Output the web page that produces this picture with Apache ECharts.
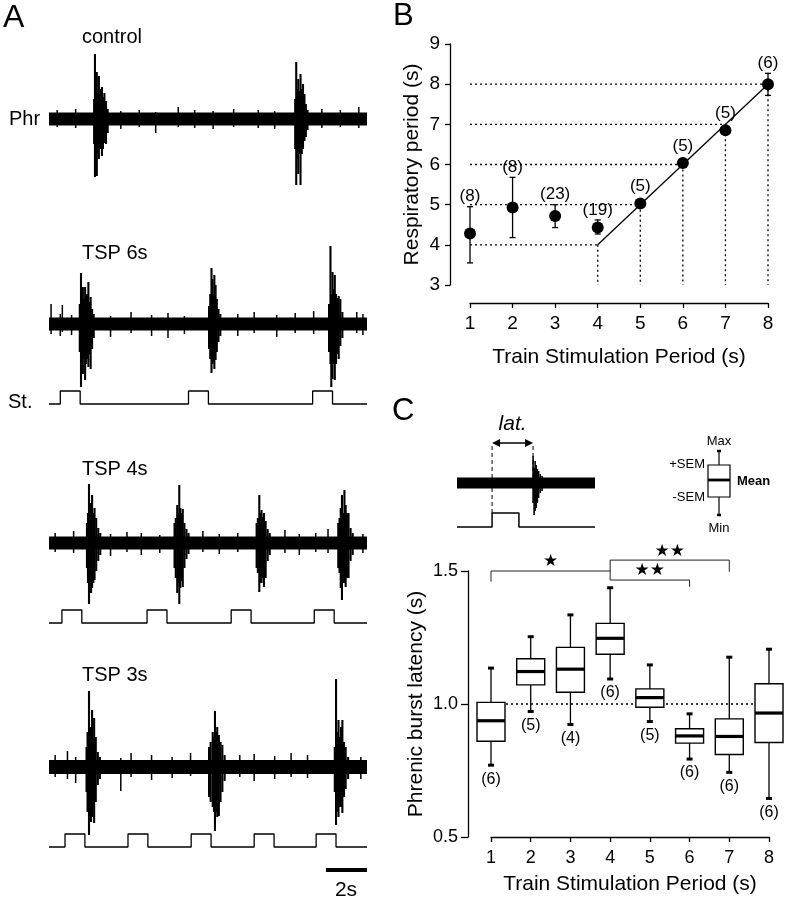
<!DOCTYPE html>
<html><head><meta charset="utf-8">
<script src="https://cdn.jsdelivr.net/npm/echarts@6/dist/echarts.min.js"></script>
<style>html,body{margin:0;padding:0;background:#fff}#c{width:788px;height:899px}</style>
</head><body><div id="c"></div>
<script>
const FONT = '"Liberation Sans", Arial, Helvetica, sans-serif';

// ---------- Panel A : traces (time in s, amplitudes as [t, up, down]) ----------
const traceNames = ['control', 'TSP 6s', 'TSP 4s', 'TSP 3s'];
const traceSpan = [0, 15.5];
const noiseHalf = [6.5, 6.5, 6.5, 7];

const controlBursts = [
  [2.20,20,25],[2.24,65,58],[2.28,30,48],[2.33,47,57],[2.38,28,35],[2.43,43,40],[2.48,25,30],[2.53,30,28],[2.58,32,37],[2.63,22,30],[2.70,26,24],[2.78,18,25],[2.86,10,14],
  [12.00,20,30],[12.05,57,66],[12.10,30,40],[12.15,40,55],[12.20,28,35],[12.26,45,66],[12.32,30,35],[12.38,35,30],[12.45,25,22],[12.52,15,18],[12.60,9,11]
];
const controlNoise = [[0.4,9,8],[1.3,10,9],[3.5,8,10],[4.4,9,8],[5.2,7,14],[6.3,12,8],[7.1,9,9],[8.0,8,10],[9.0,10,8],[10.2,9,9],[11.0,8,10],[13.3,10,9],[14.2,9,8],[15.1,12,9]];

const tsp6Bursts = [
  [1.50,20,28],[1.56,51,63],[1.60,30,45],[1.65,37,50],[1.70,25,35],[1.76,37,56],[1.81,28,40],[1.86,30,35],[1.92,42,43],[1.97,22,30],[2.03,27,45],[2.10,15,25],[2.18,10,14],
  [7.80,18,25],[7.86,30,35],[7.92,56,49],[7.97,45,40],[8.02,30,38],[8.06,49,45],[8.12,39,36],[8.18,25,28],[8.26,15,18],[8.35,10,12],
  [13.65,20,28],[13.72,78,40],[13.76,30,63],[13.82,52,55],[13.88,35,40],[13.93,49,56],[13.99,30,40],[14.05,26,30],[14.12,28,35],[14.20,25,22],[14.30,12,14]
];
const tsp6Noise = [[0.1,20,10],[0.55,10,12],[0.65,19,8],[1.1,9,11],[3.0,8,13],[4.0,12,9],[5.0,9,12],[5.8,11,14],[6.6,8,10],[9.2,10,12],[10.0,12,9],[11.1,9,13],[12.0,11,9],[12.9,13,10],[15.0,12,9],[15.3,10,11]];

const tsp4Bursts = [
  [1.85,20,25],[1.90,30,40],[1.95,59,61],[2.00,35,45],[2.05,40,50],[2.10,48,45],[2.16,30,40],[2.22,35,37],[2.30,25,28],[2.40,15,18],[2.50,10,12],
  [6.12,20,25],[6.18,25,35],[6.25,38,50],[6.30,30,40],[6.35,58,61],[6.40,35,45],[6.46,30,38],[6.52,34,44],[6.60,20,25],[6.70,14,16],[6.80,10,11],
  [10.12,20,25],[10.18,25,30],[10.25,48,49],[10.30,30,40],[10.36,33,40],[10.42,26,35],[10.48,30,44],[10.56,22,35],[10.66,14,18],[10.76,10,12],
  [14.10,20,25],[14.16,25,30],[14.22,35,45],[14.28,48,57],[14.34,30,40],[14.40,53,40],[14.46,38,44],[14.52,30,35],[14.60,30,35],[14.70,15,18],[14.80,10,12]
];
const tsp4Noise = [[0.3,10,9],[1.2,12,10],[3.0,9,13],[3.8,11,9],[4.5,10,12],[5.4,8,10],[7.5,12,9],[8.3,9,11],[9.2,10,9],[11.5,13,10],[12.2,9,12],[13.0,10,9],[13.6,14,10],[15.3,9,10]];

const tsp3Bursts = [
  [1.83,20,25],[1.88,35,45],[1.95,76,68],[2.00,30,40],[2.05,40,55],[2.10,57,50],[2.15,30,40],[2.20,49,56],[2.28,30,35],[2.38,15,18],[2.48,10,12],
  [7.80,20,30],[7.88,25,35],[7.98,35,40],[8.04,30,45],[8.09,56,64],[8.15,35,45],[8.20,40,50],[8.28,32,49],[8.36,25,35],[8.45,22,25],[8.56,12,14],
  [13.93,20,25],[13.99,88,58],[14.05,35,45],[14.11,47,50],[14.17,30,40],[14.23,40,40],[14.30,47,46],[14.38,25,30],[14.46,20,22],[14.58,10,12]
];
const tsp3Noise = [[0.3,12,10],[0.9,16,12],[1.3,10,16],[3.5,9,24],[4.0,14,10],[5.0,12,13],[6.0,10,11],[6.9,14,9],[9.3,12,10],[10.0,13,14],[11.0,11,12],[11.8,14,10],[12.6,12,11],[15.2,10,12]];

// stimulus trains: onset times (s), pulse duration (s)
const stim6Onsets = [0.55, 6.80, 12.85];
const stim4Onsets = [0.63, 4.78, 8.88, 12.93];
const stim3Onsets = [0.78, 3.85, 6.93, 10.00, 13.02];
const stimDur = 0.97;
const scaleBarSec = [13.5, 15.5];

// ---------- Panel B ----------
const respX    = [1, 2, 3, 4, 5, 6, 7, 8];
const respMean = [4.28, 4.93, 4.72, 4.43, 5.03, 6.04, 6.85, 8.00];
const respLow  = [3.55, 4.18, 4.43, 4.27, null, null, null, 7.72];
const respHigh = [4.95, 5.68, 5.00, 4.62, null, null, null, 8.27];
const respN    = ['(8)', '(8)', '(23)', '(19)', '(5)', '(5)', '(5)', '(6)'];
const refLevels = [4, 5, 6, 7, 8];
const fitX = [4, 8], fitY = [4, 8];

// ---------- Panel C ----------
const latX    = [1, 2, 3, 4, 5, 6, 7, 8];
const latMin  = [0.770, 0.972, 0.923, 1.094, 0.934, 0.793, 0.743, 0.645];
const latLow  = [0.860, 1.072, 1.044, 1.187, 0.988, 0.853, 0.810, 0.855];
const latMean = [0.937, 1.122, 1.131, 1.247, 1.024, 0.880, 0.878, 0.966];
const latHigh = [1.006, 1.170, 1.213, 1.303, 1.057, 0.907, 0.944, 1.076];
const latMax  = [1.135, 1.253, 1.335, 1.437, 1.147, 0.963, 1.176, 1.206];
const latN    = ['(6)', '(5)', '(4)', '(6)', '(5)', '(6)', '(6)', '(6)'];
const latRef  = 1.0;
// significance brackets: [from, to, level, left leg, right leg]
const sigBrackets = [[1, 4, 1.500, 0.040, 0], [4, 7, 1.541, 0.075, 0.044], [4, 6, 1.466, 0, 0.025]];
const sigStars = ['\u2605', '\u2605\u2605', '\u2605\u2605'];
// inset trace
const insetSpikes = [[3.71,27,20],[3.76,15,32],[3.81,22,28],[3.86,18,25],[3.92,14,20],[3.98,12,15],[4.06,9,10],[4.15,7,8]];
const insetStimOnset = 1.71, insetStimDur = 1.31, insetSpan = [0, 6.73];

// ---------- helpers ----------
const BLACK = '#000';
function stepData(onsets, dur, span, low, high) {
  const d = [[span[0], low]];
  onsets.forEach(o => d.push([o, low], [o, high], [o + dur, high], [o + dur, low]));
  d.push([span[1], low]);
  return d;
}
function spikeSeries(gi, data, w) {
  return {
    type: 'custom', xAxisIndex: gi, yAxisIndex: gi, data: data, silent: true, z: 3,
    renderItem: (p, api) => {
      const a = api.coord([api.value(0), api.value(1)]);
      const b = api.coord([api.value(0), -api.value(2)]);
      return { type: 'line', shape: { x1: a[0], y1: a[1], x2: b[0], y2: b[1] }, style: { stroke: BLACK, lineWidth: w || 1.3 } };
    }
  };
}
function bandSeries(gi, span, half) {
  return {
    type: 'custom', xAxisIndex: gi, yAxisIndex: gi, data: [[span[0], span[1], half]], silent: true, z: 2,
    renderItem: (p, api) => {
      const a = api.coord([api.value(0), api.value(2)]);
      const b = api.coord([api.value(1), -api.value(2)]);
      return { type: 'rect', shape: { x: a[0], y: a[1], width: b[0] - a[0], height: b[1] - a[1] }, style: { fill: BLACK } };
    }
  };
}
function stimSeries(gi, onsets, dur, span) {
  return {
    type: 'line', xAxisIndex: gi, yAxisIndex: gi, data: stepData(onsets, dur, span, -80, -67),
    symbol: 'none', silent: true, lineStyle: { color: BLACK, width: 1.3 }, animation: false
  };
}

const hiddenX = (gi, min, max) => ({ gridIndex: gi, type: 'value', min, max, show: false });
const hiddenY = (gi, min, max) => ({ gridIndex: gi, type: 'value', min, max, show: false });

const option = {
  animation: false,
  backgroundColor: '#fff',
  textStyle: { fontFamily: FONT },
  grid: [
    { left: 49, width: 318, top: 34, height: 180 },
    { left: 49, width: 318, top: 239, height: 180 },
    { left: 49, width: 318, top: 458, height: 180 },
    { left: 49, width: 318, top: 682, height: 210 },
    { left: 450, right: 20, top: 44, height: 241 },
    { left: 470, right: 20, top: 302, height: 1 },
    { left: 457, width: 138, top: 438, height: 95 },
    { left: 468, right: 19, top: 571, height: 266 },
    { left: 491, right: 19, top: 836, height: 1 }
  ],
  xAxis: [
    hiddenX(0, traceSpan[0], traceSpan[1]),
    hiddenX(1, traceSpan[0], traceSpan[1]),
    hiddenX(2, traceSpan[0], traceSpan[1]),
    hiddenX(3, traceSpan[0], traceSpan[1]),
    hiddenX(4, 0.53, 8),
    {
      gridIndex: 5, type: 'value', min: 1, max: 8, interval: 1,
      axisLine: { show: true, lineStyle: { color: BLACK, width: 1.3 } },
      axisTick: { show: true, length: 5, lineStyle: { color: BLACK, width: 1.3 } },
      axisLabel: { fontSize: 19, color: BLACK, margin: 11, fontFamily: FONT },
      splitLine: { show: false },
      name: 'Train Stimulation Period (s)', nameLocation: 'middle', nameGap: 44,
      nameTextStyle: { fontSize: 21, color: BLACK, fontFamily: FONT }
    },
    hiddenX(6, insetSpan[0], insetSpan[1]),
    hiddenX(7, 0.4208, 8),
    {
      gridIndex: 8, type: 'value', min: 1, max: 8, interval: 1,
      axisLine: { show: true, lineStyle: { color: BLACK, width: 1.3 } },
      axisTick: { show: true, length: 5, lineStyle: { color: BLACK, width: 1.3 } },
      axisLabel: { fontSize: 18, color: BLACK, margin: 12, fontFamily: FONT },
      splitLine: { show: false },
      name: 'Train Stimulation Period (s)', nameLocation: 'middle', nameGap: 37,
      nameTextStyle: { fontSize: 21, color: BLACK, fontFamily: FONT }
    }
  ],
  yAxis: [
    hiddenY(0, -95, 85), hiddenY(1, -95, 85), hiddenY(2, -95, 85), hiddenY(3, -125, 85),
    {
      gridIndex: 4, type: 'value', min: 3, max: 9, interval: 1,
      axisLine: { show: true, lineStyle: { color: BLACK, width: 1.3 } },
      axisTick: { show: true, length: 5, lineStyle: { color: BLACK, width: 1.3 } },
      axisLabel: { fontSize: 19, color: BLACK, margin: 10, fontFamily: FONT },
      splitLine: { show: false },
      name: 'Respiratory period (s)', nameLocation: 'middle', nameRotate: 90, nameGap: 27,
      nameTextStyle: { fontSize: 21, color: BLACK, fontFamily: FONT }
    },
    hiddenY(5, 0, 1),
    hiddenY(6, -50, 45),
    {
      gridIndex: 7, type: 'value', min: 0.5, max: 1.5, interval: 0.5,
      axisLine: { show: true, lineStyle: { color: BLACK, width: 1.3 } },
      axisTick: { show: true, length: 7, lineStyle: { color: BLACK, width: 1.3 } },
      axisLabel: { fontSize: 18, color: BLACK, margin: 10, fontFamily: FONT, formatter: v => v.toFixed(1) },
      splitLine: { show: false },
      name: 'Phrenic burst latency (s)', nameLocation: 'middle', nameRotate: 90, nameGap: 41,
      nameTextStyle: { fontSize: 21, color: BLACK, fontFamily: FONT }
    },
    hiddenY(8, 0, 1)
  ],
  series: [],
  graphic: []
};

const S = option.series;
// Panel A
const traceBursts = [controlBursts, tsp6Bursts, tsp4Bursts, tsp3Bursts];
const traceNoise = [controlNoise, tsp6Noise, tsp4Noise, tsp3Noise];
for (let i = 0; i < 4; i++) {
  S.push(bandSeries(i, traceSpan, noiseHalf[i]));
  S.push(spikeSeries(i, traceNoise[i], 1.5));
  S.push(spikeSeries(i, traceBursts[i], 2.1));
}
S.push(stimSeries(1, stim6Onsets, stimDur, traceSpan));
S.push(stimSeries(2, stim4Onsets, stimDur, traceSpan));
S.push(stimSeries(3, stim3Onsets, stimDur, traceSpan));
S.push({ type: 'line', xAxisIndex: 3, yAxisIndex: 3, data: scaleBarSec.map(t => [t, -103]), symbol: 'none', silent: true, lineStyle: { color: BLACK, width: 4 } });

// Panel B
S.push({
  type: 'custom', xAxisIndex: 4, yAxisIndex: 4, data: refLevels.map(v => [v, v]), silent: true, z: 1,
  renderItem: (p, api) => {
    const v = api.value(0);
    const a = api.coord([1, v]), b = api.coord([v, v]), c = api.coord([v, 3]);
    const st = { stroke: BLACK, lineWidth: 1.3, lineDash: [2, 3] };
    return { type: 'group', children: [
      { type: 'line', shape: { x1: a[0], y1: a[1], x2: b[0], y2: b[1] }, style: st },
      { type: 'line', shape: { x1: b[0], y1: b[1], x2: c[0], y2: c[1] }, style: st }
    ] };
  }
});
S.push({ type: 'line', xAxisIndex: 4, yAxisIndex: 4, data: fitX.map((x, i) => [x, fitY[i]]), symbol: 'none', silent: true, z: 2, lineStyle: { color: BLACK, width: 1.3 } });
S.push({
  type: 'custom', xAxisIndex: 4, yAxisIndex: 4, silent: true, z: 3,
  data: respX.map((x, i) => [x, respLow[i], respHigh[i]]).filter(d => d[1] !== null),
  renderItem: (p, api) => {
    const x = api.value(0);
    const lo = api.coord([x, api.value(1)]), hi = api.coord([x, api.value(2)]);
    const st = { stroke: BLACK, lineWidth: 1.3 };
    return { type: 'group', children: [
      { type: 'line', shape: { x1: lo[0], y1: lo[1], x2: hi[0], y2: hi[1] }, style: st },
      { type: 'line', shape: { x1: lo[0] - 3, y1: lo[1], x2: lo[0] + 3, y2: lo[1] }, style: st },
      { type: 'line', shape: { x1: hi[0] - 3, y1: hi[1], x2: hi[0] + 3, y2: hi[1] }, style: st }
    ] };
  }
});
S.push({ type: 'scatter', xAxisIndex: 4, yAxisIndex: 4, data: respX.map((x, i) => [x, respMean[i]]), symbolSize: 12, itemStyle: { color: BLACK, opacity: 1 }, silent: true, z: 4 });
S.push({
  type: 'custom', xAxisIndex: 4, yAxisIndex: 4, silent: true, z: 5,
  data: respX.map((x, i) => [x, respMean[i], respHigh[i] === null ? respMean[i] : respHigh[i], i]),
  renderItem: (p, api) => {
    const x = api.value(0);
    const m = api.coord([x, api.value(1)]), h = api.coord([x, api.value(2)]);
    const y = Math.min(h[1] - 10, m[1] - 17);
    return { type: 'text', x: m[0], y: y, style: { text: respN[api.value(3)], fill: BLACK, fontSize: 17, fontFamily: FONT, align: 'center', verticalAlign: 'middle' } };
  }
});

// Panel C inset trace
S.push(bandSeries(6, insetSpan, 5.5));
S.push(spikeSeries(6, insetSpikes, 1.6));
S.push({
  type: 'line', xAxisIndex: 6, yAxisIndex: 6, data: stepData([insetStimOnset], insetStimDur, insetSpan, -44, -30),
  symbol: 'none', silent: true, lineStyle: { color: BLACK, width: 1.5 }
});
S.push({
  type: 'custom', xAxisIndex: 6, yAxisIndex: 6, silent: true, z: 5,
  data: [[insetStimOnset, insetSpikes[0][0]]],
  renderItem: (p, api) => {
    const t1 = api.value(0), t2 = api.value(1);
    const a1 = api.coord([t1, 37]), a2 = api.coord([t1, -30]);
    const b1 = api.coord([t2, 37]), b2 = api.coord([t2, 6]);
    const ay = api.coord([t1, 40])[1];
    const dash = { stroke: BLACK, lineWidth: 1, lineDash: [4, 3] };
    const x1 = a1[0], x2 = b1[0];
    return { type: 'group', children: [
      { type: 'line', shape: { x1: x1, y1: a1[1], x2: x1, y2: a2[1] }, style: dash },
      { type: 'line', shape: { x1: x2, y1: b1[1], x2: x2, y2: b2[1] }, style: dash },
      { type: 'line', shape: { x1: x1 + 3, y1: ay, x2: x2 - 3, y2: ay }, style: { stroke: BLACK, lineWidth: 1.5 } },
      { type: 'polygon', shape: { points: [[x1, ay], [x1 + 8, ay - 4], [x1 + 8, ay + 4]] }, style: { fill: BLACK } },
      { type: 'polygon', shape: { points: [[x2, ay], [x2 - 8, ay - 4], [x2 - 8, ay + 4]] }, style: { fill: BLACK } },
      { type: 'text', x: (x1 + x2) / 2, y: ay - 19, style: { text: 'lat.', fill: BLACK, fontSize: 21, fontStyle: 'italic', fontFamily: FONT, align: 'center', verticalAlign: 'middle' } }
    ] };
  }
});

// Panel C box plots
S.push({
  type: 'line', xAxisIndex: 7, yAxisIndex: 7, data: [[1, latRef], [8.4, latRef]], symbol: 'none', silent: true, z: 1,
  lineStyle: { color: BLACK, width: 1.3, type: [2, 3] }
});
S.push({
  type: 'custom', xAxisIndex: 7, yAxisIndex: 7, silent: true, z: 3,
  data: latX.map((x, i) => [x, latMin[i], latLow[i], latMean[i], latHigh[i], latMax[i], i]),
  renderItem: (p, api) => {
    const x = api.value(0);
    const pMin = api.coord([x, api.value(1)]), pLo = api.coord([x, api.value(2)]), pMe = api.coord([x, api.value(3)]);
    const pHi = api.coord([x, api.value(4)]), pMax = api.coord([x, api.value(5)]);
    const cx = pMin[0], hw = 14, cap = 3;
    const thin = { stroke: BLACK, lineWidth: 1.3 };
    const capS = { stroke: BLACK, lineWidth: 3 };
    return { type: 'group', children: [
      { type: 'line', shape: { x1: cx, y1: pMax[1], x2: cx, y2: pHi[1] }, style: thin },
      { type: 'line', shape: { x1: cx, y1: pLo[1], x2: cx, y2: pMin[1] }, style: thin },
      { type: 'line', shape: { x1: cx - cap, y1: pMax[1], x2: cx + cap, y2: pMax[1] }, style: capS },
      { type: 'line', shape: { x1: cx - cap, y1: pMin[1], x2: cx + cap, y2: pMin[1] }, style: capS },
      { type: 'rect', shape: { x: cx - hw, y: pHi[1], width: 2 * hw, height: pLo[1] - pHi[1] }, style: { fill: '#fff', stroke: BLACK, lineWidth: 1.4 } },
      { type: 'line', shape: { x1: cx - hw, y1: pMe[1], x2: cx + hw, y2: pMe[1] }, style: { stroke: BLACK, lineWidth: 3.2 } },
      { type: 'text', x: cx, y: pMin[1] + 14, style: { text: latN[api.value(6)], fill: BLACK, fontSize: 16, fontFamily: FONT, align: 'center', verticalAlign: 'middle' } }
    ] };
  }
});
S.push({
  type: 'custom', xAxisIndex: 7, yAxisIndex: 7, silent: true, z: 4,
  data: sigBrackets.map((b, i) => b.concat([i])),
  renderItem: (p, api) => {
    const x1 = api.value(0), x2 = api.value(1), lv = api.value(2);
    const a = api.coord([x1, lv]), b = api.coord([x2, lv]);
    const la = api.coord([x1, lv - api.value(3)]), rb = api.coord([x2, lv - api.value(4)]);
    const st = { stroke: '#222', lineWidth: 1 };
    return { type: 'group', children: [
      { type: 'line', shape: { x1: a[0], y1: a[1], x2: b[0], y2: b[1] }, style: st },
      { type: 'line', shape: { x1: a[0], y1: a[1], x2: la[0], y2: la[1] }, style: st },
      { type: 'line', shape: { x1: b[0], y1: b[1], x2: rb[0], y2: rb[1] }, style: st },
      { type: 'text', x: (a[0] + b[0]) / 2, y: a[1] - 9, style: { text: sigStars[api.value(5)], fill: BLACK, fontSize: 17, fontFamily: '"DejaVu Sans", sans-serif', align: 'center', verticalAlign: 'middle' } }
    ] };
  }
});
// empty series to keep axis-only grids alive
S.push({ type: 'scatter', xAxisIndex: 5, yAxisIndex: 5, data: [] });
S.push({ type: 'scatter', xAxisIndex: 8, yAxisIndex: 8, data: [] });

// ---------- text annotations ----------
const txt = (x, y, text, size, extra) => ({ type: 'text', x, y, silent: true, style: Object.assign({ text, fill: BLACK, fontSize: size, fontFamily: FONT, align: 'left', verticalAlign: 'middle' }, extra || {}) });
const G = option.graphic;
G.push(txt(3, 18, 'A', 32));
G.push(txt(393, 16, 'B', 31));
G.push(txt(392, 411, 'C', 31));
const labelY = [37, 253, 469, 675];
traceNames.forEach((n, i) => G.push(txt(82, labelY[i], n, 20)));
G.push(txt(9, 119, 'Phr', 20));
G.push(txt(8, 402, 'St.', 20));
G.push(txt(346, 890, '2s', 21, { align: 'center' }));
// box legend key
G.push({ type: 'group', silent: true, children: [
  { type: 'line', shape: { x1: 719, y1: 451, x2: 719, y2: 465 }, style: { stroke: BLACK, lineWidth: 1.2 } },
  { type: 'line', shape: { x1: 719, y1: 497, x2: 719, y2: 515 }, style: { stroke: BLACK, lineWidth: 1.2 } },
  { type: 'line', shape: { x1: 717, y1: 451, x2: 721, y2: 451 }, style: { stroke: BLACK, lineWidth: 2.5 } },
  { type: 'line', shape: { x1: 717, y1: 515, x2: 721, y2: 515 }, style: { stroke: BLACK, lineWidth: 2.5 } },
  { type: 'rect', shape: { x: 708, y: 465, width: 22, height: 32 }, style: { fill: '#fff', stroke: BLACK, lineWidth: 1.2 } },
  { type: 'line', shape: { x1: 708, y1: 480, x2: 730, y2: 480 }, style: { stroke: BLACK, lineWidth: 2.8 } }
] });
G.push(txt(719, 441, 'Max', 13, { align: 'center' }));
G.push(txt(719, 528, 'Min', 13, { align: 'center' }));
G.push(txt(705, 464, '+SEM', 13, { align: 'right' }));
G.push(txt(705, 497, '-SEM', 13, { align: 'right' }));
G.push(txt(737, 481, 'Mean', 13, { fontWeight: 'bold' }));

const chart = echarts.init(document.getElementById('c'), null, { renderer: 'canvas' });
chart.setOption(option);
</script>
</body></html>
